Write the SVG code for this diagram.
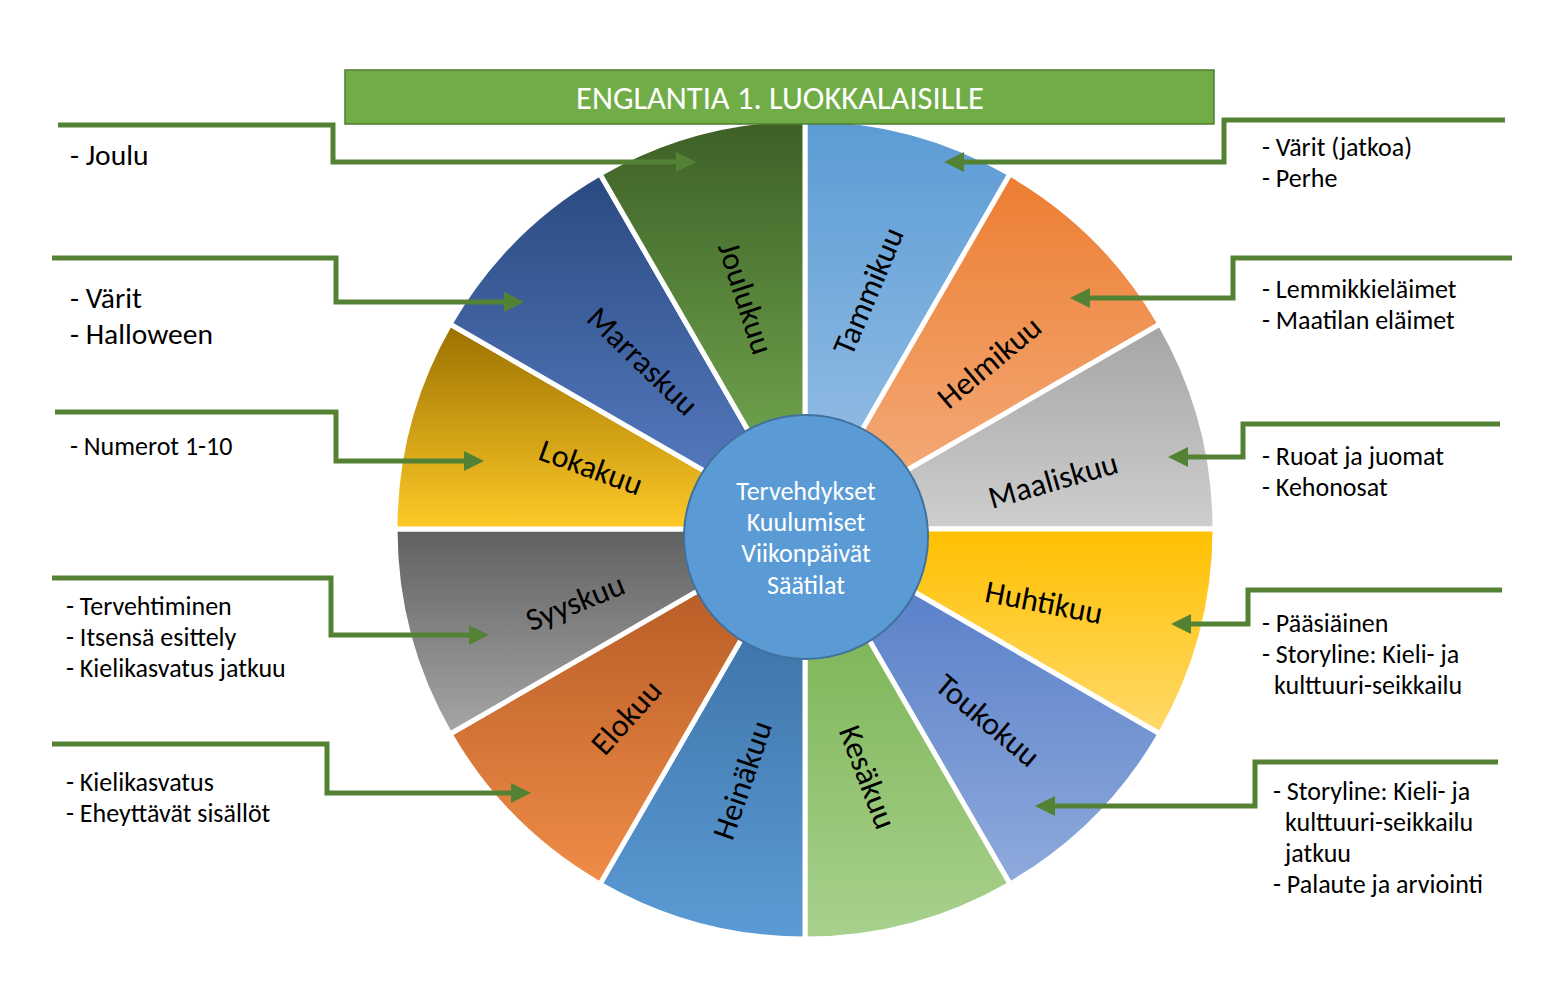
<svg xmlns="http://www.w3.org/2000/svg" width="1560" height="990" viewBox="0 0 1560 990">
<style>
.seg{stroke:#ffffff;stroke-width:5;stroke-linejoin:round}
.mlab{font-family:Carlito,Lato,"Liberation Sans",sans-serif;font-size:32px;fill:#000000;text-anchor:middle}
.ctr{font-family:Carlito,Lato,"Liberation Sans",sans-serif;font-size:26px;fill:#ffffff;text-anchor:middle}
.title{font-family:Carlito,Lato,"Liberation Sans",sans-serif;font-size:32.5px;fill:#ffffff;text-anchor:middle}
.note{font-family:Carlito,Lato,"Liberation Sans",sans-serif;font-size:26px;fill:#000000}
.noteL{font-family:Carlito,Lato,"Liberation Sans",sans-serif;font-size:29.5px;fill:#000000}
.conn{fill:none;stroke:#548235;stroke-width:5;stroke-linejoin:miter;marker-end:url(#arr)}
</style>
<defs>
<marker id="arr" viewBox="0 0 10 10" refX="5" refY="5" markerWidth="4" markerHeight="4" orient="auto" markerUnits="strokeWidth">
<path d="M0,0 L10,5 L0,10 Z" fill="#548235"/>
</marker>
<linearGradient id="gJan" x1="0" y1="0" x2="0" y2="1"><stop offset="0" stop-color="#5B9BD5"/><stop offset="1" stop-color="#9DC3E6"/></linearGradient>
<linearGradient id="gFeb" x1="0" y1="0" x2="0" y2="1"><stop offset="0" stop-color="#ED7D31"/><stop offset="1" stop-color="#F4B183"/></linearGradient>
<linearGradient id="gMar" x1="0" y1="0" x2="0" y2="1"><stop offset="0" stop-color="#A5A5A5"/><stop offset="1" stop-color="#CECECE"/></linearGradient>
<linearGradient id="gApr" x1="0" y1="0" x2="0" y2="1"><stop offset="0" stop-color="#FFC000"/><stop offset="1" stop-color="#FFDA6A"/></linearGradient>
<linearGradient id="gMay" x1="0" y1="0" x2="0" y2="1"><stop offset="0" stop-color="#4F78C6"/><stop offset="1" stop-color="#8FAADC"/></linearGradient>
<linearGradient id="gJun" x1="0" y1="0" x2="0" y2="1"><stop offset="0" stop-color="#70AD47"/><stop offset="1" stop-color="#A9D18E"/></linearGradient>
<linearGradient id="gJul" x1="0" y1="0" x2="0" y2="1"><stop offset="0" stop-color="#36689C"/><stop offset="1" stop-color="#5B9BD5"/></linearGradient>
<linearGradient id="gAug" x1="0" y1="0" x2="0" y2="1"><stop offset="0" stop-color="#AD5420"/><stop offset="1" stop-color="#F08C48"/></linearGradient>
<linearGradient id="gSep" x1="0" y1="0" x2="0" y2="1"><stop offset="0" stop-color="#606060"/><stop offset="1" stop-color="#A6A6A6"/></linearGradient>
<linearGradient id="gOct" x1="0" y1="0" x2="0" y2="1"><stop offset="0" stop-color="#9A7000"/><stop offset="1" stop-color="#FFCA28"/></linearGradient>
<linearGradient id="gNov" x1="0" y1="0" x2="0" y2="1"><stop offset="0" stop-color="#2A4A80"/><stop offset="1" stop-color="#5A80C8"/></linearGradient>
<linearGradient id="gDec" x1="0" y1="0" x2="0" y2="1"><stop offset="0" stop-color="#3D5F26"/><stop offset="1" stop-color="#7AB356"/></linearGradient>
</defs>
<rect x="0" y="0" width="1560" height="990" fill="#ffffff"/>

<g id="tammikuu"><path class="seg" fill="url(#gJan)" d="M805,529 L805,119 A410,410 0 0 1 1010,173.93 Z"/><text class="mlab" transform="translate(868,291) rotate(-67)" dy="11">Tammikuu</text></g>
<g id="helmikuu"><path class="seg" fill="url(#gFeb)" d="M805,529 L1010,173.93 A410,410 0 0 1 1160.07,324 Z"/><text class="mlab" transform="translate(989,362) rotate(-40)" dy="11">Helmikuu</text></g>
<g id="maaliskuu"><path class="seg" fill="url(#gMar)" d="M805,529 L1160.07,324 A410,410 0 0 1 1215,529 Z"/><text class="mlab" transform="translate(1053,480) rotate(-16)" dy="11">Maaliskuu</text></g>
<g id="huhtikuu"><path class="seg" fill="url(#gApr)" d="M805,529 L1215,529 A410,410 0 0 1 1160.07,734 Z"/><text class="mlab" transform="translate(1044,602) rotate(11)" dy="11">Huhtikuu</text></g>
<g id="toukokuu"><path class="seg" fill="url(#gMay)" d="M805,529 L1160.07,734 A410,410 0 0 1 1010,884.07 Z"/><text class="mlab" transform="translate(988,720) rotate(40)" dy="11">Toukokuu</text></g>
<g id="kesakuu"><path class="seg" fill="url(#gJun)" d="M805,529 L1010,884.07 A410,410 0 0 1 805,939 Z"/><text class="mlab" transform="translate(868,777) rotate(69)" dy="11">Kesäkuu</text></g>
<g id="heinakuu"><path class="seg" fill="url(#gJul)" d="M805,529 L805,939 A410,410 0 0 1 600,884.07 Z"/><text class="mlab" transform="translate(742,780) rotate(-71)" dy="11">Heinäkuu</text></g>
<g id="elokuu"><path class="seg" fill="url(#gAug)" d="M805,529 L600,884.07 A410,410 0 0 1 449.93,734 Z"/><text class="mlab" transform="translate(626,717) rotate(-48)" dy="11">Elokuu</text></g>
<g id="syyskuu"><path class="seg" fill="url(#gSep)" d="M805,529 L449.93,734 A410,410 0 0 1 395,529 Z"/><text class="mlab" transform="translate(575,602) rotate(-22)" dy="11">Syyskuu</text></g>
<g id="lokakuu"><path class="seg" fill="url(#gOct)" d="M805,529 L395,529 A410,410 0 0 1 449.93,324 Z"/><text class="mlab" transform="translate(591,467) rotate(20)" dy="11">Lokakuu</text></g>
<g id="marraskuu"><path class="seg" fill="url(#gNov)" d="M805,529 L449.93,324 A410,410 0 0 1 600,173.93 Z"/><text class="mlab" transform="translate(643,361) rotate(44)" dy="11">Marraskuu</text></g>
<g id="joulukuu"><path class="seg" fill="url(#gDec)" d="M805,529 L600,173.93 A410,410 0 0 1 805,119 Z"/><text class="mlab" transform="translate(746,298) rotate(72)" dy="11">Joulukuu</text></g>

<g id="keskus">
<circle cx="806" cy="537" r="122" fill="#5B9BD5" stroke="#41719C" stroke-width="2"/>
<text class="ctr" x="806" y="500">Tervehdykset</text>
<text class="ctr" x="806" y="531">Kuulumiset</text>
<text class="ctr" x="806" y="562">Viikonpäivät</text>
<text class="ctr" x="806" y="594">Säätilat</text>
</g>

<g id="otsikko">
<rect x="345" y="70" width="869" height="54" fill="#70AD47" stroke="#507E32" stroke-width="1.5"/>
<text class="title" x="780" y="109">ENGLANTIA 1. LUOKKALAISILLE</text>
</g>

<g id="connectors">
<path class="conn" d="M58,125 H333 V162 H686"/>
<path class="conn" d="M1505,120 H1224 V162 H954"/>
<path class="conn" d="M1512,258 H1233 V298 H1080"/>
<path class="conn" d="M1500,424 H1243 V457 H1178"/>
<path class="conn" d="M1502,590 H1248 V624 H1181"/>
<path class="conn" d="M1498,762 H1255 V806 H1045"/>
<path class="conn" d="M52,258 H336 V302 H514"/>
<path class="conn" d="M55,412 H336 V461 H474"/>
<path class="conn" d="M52,578 H331 V635 H479"/>
<path class="conn" d="M52,744 H327 V793 H521"/>
</g>

<g id="note-joulu"><text class="noteL" x="70" y="165">- Joulu</text></g>
<g id="note-marras"><text class="noteL" x="70" y="308">- Värit</text><text class="noteL" x="70" y="344">- Halloween</text></g>
<g id="note-loka"><text class="note" x="70" y="455">- Numerot 1-10</text></g>
<g id="note-syys"><text class="note" x="66" y="615">- Tervehtiminen</text><text class="note" x="66" y="646">- Itsensä esittely</text><text class="note" x="66" y="677">- Kielikasvatus jatkuu</text></g>
<g id="note-elo"><text class="note" x="66" y="791">- Kielikasvatus</text><text class="note" x="66" y="822">- Eheyttävät sisällöt</text></g>
<g id="note-tammi"><text class="note" x="1262" y="156">- Värit (jatkoa)</text><text class="note" x="1262" y="187">- Perhe</text></g>
<g id="note-helmi"><text class="note" x="1262" y="298">- Lemmikkieläimet</text><text class="note" x="1262" y="329">- Maatilan eläimet</text></g>
<g id="note-maalis"><text class="note" x="1262" y="465">- Ruoat ja juomat</text><text class="note" x="1262" y="496">- Kehonosat</text></g>
<g id="note-huhti"><text class="note" x="1262" y="632">- Pääsiäinen</text><text class="note" x="1262" y="663">- Storyline: Kieli- ja</text><text class="note" x="1274" y="694">kulttuuri-seikkailu</text></g>
<g id="note-touko"><text class="note" x="1273" y="800">- Storyline: Kieli- ja</text><text class="note" x="1285" y="831">kulttuuri-seikkailu</text><text class="note" x="1285" y="862">jatkuu</text><text class="note" x="1273" y="893">- Palaute ja arviointi</text></g>
</svg>
